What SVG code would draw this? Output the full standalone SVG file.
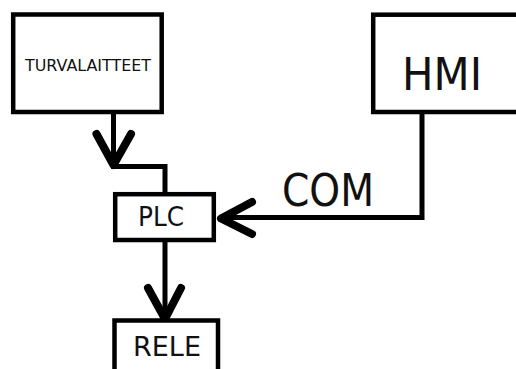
<svg xmlns="http://www.w3.org/2000/svg" width="516" height="369" viewBox="0 0 516 369">
  <style>
    .box { fill: #fff; stroke: #000; stroke-width: 4.5; }
    .wire { fill: none; stroke: #000; stroke-width: 5; }
    .head { fill: none; stroke: #000; stroke-width: 8; stroke-linecap: round; stroke-linejoin: round; }
    .lbl { font-family: "DejaVu Sans", Verdana, sans-serif; fill: #111; text-anchor: middle; }
  </style>
  <rect width="516" height="369" fill="#fff"/>

  <!-- connectors -->
  <g id="connectors">
    <path class="wire" d="M113.5 114 V166.5 H165 V194"/>
    <polyline class="head" points="96.5,134 113.5,165 131,134"/>
    <path class="wire" d="M165 240 V319"/>
    <polyline class="head" points="148,288 165,319 181,288"/>
    <path class="wire" d="M422 114 V217.5 H220"/>
    <polyline class="head" points="252,202 221,218.5 252,234"/>
    <text class="lbl" x="328" y="206" font-size="45" textLength="92" lengthAdjust="spacingAndGlyphs">COM</text>
  </g>

  <g id="turvalaitteet">
    <rect class="box" x="13.2" y="14.5" width="148.5" height="97.5"/>
    <text class="lbl" x="88" y="71" font-size="16.5" textLength="126" lengthAdjust="spacingAndGlyphs">TURVALAITTEET</text>
  </g>

  <g id="hmi">
    <rect class="box" x="373.2" y="14.7" width="160" height="97.3"/>
    <text class="lbl" x="442" y="90" font-size="45" textLength="80" lengthAdjust="spacingAndGlyphs">HMI</text>
  </g>

  <g id="plc">
    <rect class="box" x="115.2" y="194.2" width="98.6" height="45.8"/>
    <text class="lbl" x="161" y="226" font-size="27" textLength="46" lengthAdjust="spacingAndGlyphs">PLC</text>
  </g>

  <g id="rele">
    <rect class="box" x="114.5" y="320.5" width="103.5" height="70"/>
    <text class="lbl" x="167" y="356" font-size="27" textLength="68" lengthAdjust="spacingAndGlyphs">RELE</text>
  </g>
</svg>
